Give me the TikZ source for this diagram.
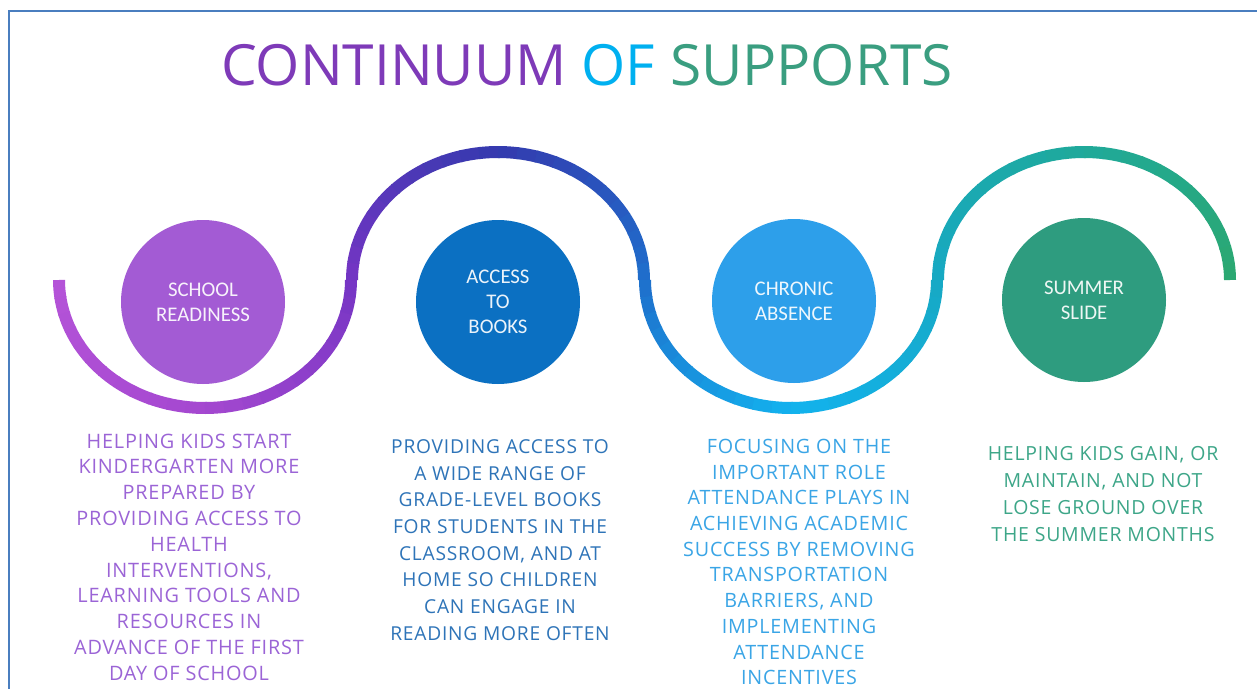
\documentclass[tikz,border=0pt]{standalone}
\usepackage{fontspec}
\setmainfont{Open Sans}
\newfontfamily\labelfont{Carlito}
\newfontfamily\bodyfont[LetterSpace=4]{Open Sans}

% frame and title colours
\definecolor{frameblue}{HTML}{4A7EBF}
\definecolor{titlepurple}{HTML}{7E3AB8}
\definecolor{titleblue}{HTML}{00B0F0}
\definecolor{titlegreen}{HTML}{3A9E80}
% colour stops along the wave, every quarter period
\definecolor{wave0}{HTML}{B553D8}
\definecolor{wave1}{HTML}{A448D0}
\definecolor{wave2}{HTML}{7535C4}
\definecolor{wave3}{HTML}{343AAE}
\definecolor{wave4}{HTML}{1F6FCC}
\definecolor{wave5}{HTML}{12B2EE}
\definecolor{wave6}{HTML}{17A9C4}
\definecolor{wave7}{HTML}{1FA99A}
\definecolor{wave8}{HTML}{2BA870}
% circles
\definecolor{circA}{HTML}{A35BD4}
\definecolor{circB}{HTML}{0B70C2}
\definecolor{circC}{HTML}{2D9FEA}
\definecolor{circD}{HTML}{2E9C7F}
% descriptions
\definecolor{descA}{HTML}{9B64D6}
\definecolor{descB}{HTML}{2E74B8}
\definecolor{descC}{HTML}{3AA5E6}
\definecolor{descD}{HTML}{3DA688}

\begin{document}
\begin{tikzpicture}[x=0.75pt,y=-0.75pt,
  wavestroke/.style={line width=9pt, line cap=butt},
  bubble/.style={circle, minimum size=123pt, inner sep=0pt, align=center,
    text=white, text opacity=0.92, font=\labelfont\fontsize{15.6}{18.6}\selectfont},
  desc/.style={align=center, inner sep=0pt},
]
\useasboundingbox (0,0) rectangle (1257,689);
\fill[white] (0,0) rectangle (1257,689);

% frame on the left and top edges
\draw[frameblue, line width=1.5pt] (9,689) -- (9,11) -- (1257,11);

% title
\node (title) at (587,65) {\fontsize{42.6}{50}\selectfont
  \textcolor{titlepurple}{CONTINUUM} \textcolor{titleblue}{OF} \textcolor{titlegreen}{SUPPORTS}};

% the wave: four half-ellipses, each half-arc shaded between two stops
\foreach \k in {0,1,2,3}{
  \foreach \h in {0,1}{
    \foreach \i in {0,...,11}{
      \pgfmathsetmacro\cx{205+293*\k}
      \pgfmathsetmacro\sg{1-2*mod(\k,2)}
      \pgfmathsetmacro\ta{90*\h+7.5*\i}
      \pgfmathsetmacro\tb{min(\ta+8.2,180)}
      \pgfmathtruncatemacro\a{2*\k+\h}
      \pgfmathtruncatemacro\b{\a+1}
      \pgfmathsetmacro\p{100-(\i+0.5)/12*100}
      \draw[wavestroke, color=wave\a!\p!wave\b]
        plot[domain=\ta:\tb, samples=5, variable=\t]
        ({\cx-146*cos(\t)},{280+\sg*128*sin(\t)});
    }
  }
}

% circles
\node[bubble, fill=circA] (school) at (203,302) {SCHOOL\\READINESS};
\node[bubble, fill=circB] (books) at (498,302) {ACCESS\\TO\\BOOKS};
\node[bubble, fill=circC] (absence) at (794,301) {CHRONIC\\ABSENCE};
\node[bubble, fill=circD] (summer) at (1084,300) {SUMMER\\SLIDE};

% descriptions
\node[desc, text=descA, font=\bodyfont\fontsize{14.9}{19.35}\selectfont]
  (schooltext) at (189,557)
  {HELPING KIDS START\\KINDERGARTEN MORE\\PREPARED BY\\PROVIDING ACCESS TO\\HEALTH\\INTERVENTIONS,\\LEARNING TOOLS AND\\RESOURCES IN\\ADVANCE OF THE FIRST\\DAY OF SCHOOL};
\node[desc, text=descB, font=\bodyfont\fontsize{14.4}{20}\selectfont]
  (bookstext) at (500,540)
  {PROVIDING ACCESS TO\\A WIDE RANGE OF\\GRADE-LEVEL BOOKS\\FOR STUDENTS IN THE\\CLASSROOM, AND AT\\HOME SO CHILDREN\\CAN ENGAGE IN\\READING MORE OFTEN};
\node[desc, text=descC, font=\bodyfont\fontsize{14.8}{19.3}\selectfont]
  (absencetext) at (799,562)
  {FOCUSING ON THE\\IMPORTANT ROLE\\ATTENDANCE PLAYS IN\\ACHIEVING ACADEMIC\\SUCCESS BY REMOVING\\TRANSPORTATION\\BARRIERS, AND\\IMPLEMENTING\\ATTENDANCE\\INCENTIVES};
\node[desc, text=descD, font=\bodyfont\fontsize{14.6}{20.25}\selectfont]
  (summertext) at (1103,494)
  {HELPING KIDS GAIN, OR\\MAINTAIN, AND NOT\\LOSE GROUND OVER\\THE SUMMER MONTHS};
\end{tikzpicture}
\end{document}
